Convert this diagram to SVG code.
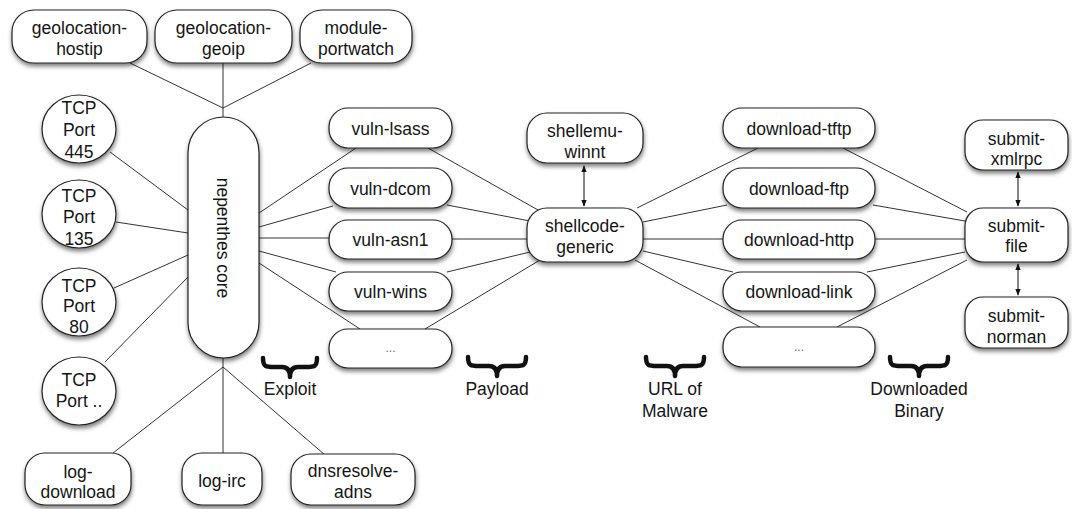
<svg xmlns="http://www.w3.org/2000/svg" width="1072" height="509" viewBox="0 0 1072 509">
<defs>
<filter id="sh" x="-20%" y="-30%" width="140%" height="170%">
<feDropShadow dx="0.5" dy="3" stdDeviation="2" flood-color="#000" flood-opacity="0.5"/>
</filter>
<marker id="ah" viewBox="0 0 10 10" refX="9" refY="5" markerWidth="6" markerHeight="6" orient="auto-start-reverse">
<path d="M0,1 L10,5 L0,9 Z" fill="#111"/>
</marker>
<style>
.n{fill:#fff;stroke:#222;stroke-width:1.2;filter:url(#sh)}
.t{font-family:"Liberation Sans",Arial,sans-serif;font-size:17.5px;fill:#151515;text-anchor:middle}
.d{font-family:"Liberation Sans",Arial,sans-serif;font-size:12px;fill:#666;text-anchor:middle}
.c{fill:none;stroke:#333;stroke-width:1}
.a{fill:none;stroke:#222;stroke-width:1.1;marker-start:url(#ah);marker-end:url(#ah)}
.b{fill:none;stroke:#111;stroke-width:4.5;stroke-linecap:round;stroke-linejoin:round}
</style>
</defs>
<rect width="1072" height="509" fill="#fff"/>

<g id="connectors">
<path class="c" d="M130,63 L223,108 M223,63 L223,108 M311,63 L223,108 M223,108 L223,117"/>
<path class="c" d="M110,152 L188,210 M116,222 L188,233 M114,288 L188,255 M105,362 L188,277"/>
<path class="c" d="M259,213 L356,148 M259,227 L333,206 M259,238 L329,238 M259,251 L336,272 M259,263 L360,329"/>
<path class="c" d="M428,148 L538,210 M447,205 L530,221 M452,239 L527,239 M447,272 L530,252 M425,329 L540,260"/>
<path class="c" d="M637,208 L758,148 M643,222 L727,205 M643,239 L723,239 M643,251 L733,272 M635,260 L760,327"/>
<path class="c" d="M843,148 L967,212 M873,205 L965,221 M875,239 L965,239 M867,272 L965,252 M837,327 L967,260"/>
<path class="c" d="M223,358 L223,367 M223,367 L113,453 M223,367 L223,453 M223,367 L325,455"/>
<path class="a" d="M584,166 L584,206"/>
<path class="a" d="M1018,172 L1018,206"/>
<path class="a" d="M1018,264 L1018,295"/>
</g>

<g id="geolocation-hostip"><rect class="n" x="12" y="10" width="135" height="53" rx="22"/><text class="t" x="79.5" y="34">geolocation-</text><text class="t" x="79.5" y="55">hostip</text></g>
<g id="geolocation-geoip"><rect class="n" x="155" y="10" width="137" height="53" rx="22"/><text class="t" x="223.5" y="34">geolocation-</text><text class="t" x="223.5" y="55">geoip</text></g>
<g id="module-portwatch"><rect class="n" x="300" y="10" width="112" height="53" rx="22"/><text class="t" x="356" y="34">module-</text><text class="t" x="356" y="55">portwatch</text></g>

<g id="nepenthes-core"><rect class="n" x="188" y="117" width="71" height="241" rx="35.5"/><text class="t" transform="translate(217,238) rotate(90)">nepenthes core</text></g>

<g id="tcp-445"><ellipse class="n" cx="79" cy="129" rx="37" ry="34"/><text class="t" x="79" y="114">TCP</text><text class="t" x="79" y="136">Port</text><text class="t" x="79" y="158">445</text></g>
<g id="tcp-135"><ellipse class="n" cx="79" cy="214" rx="37" ry="34"/><text class="t" x="79" y="202">TCP</text><text class="t" x="79" y="223">Port</text><text class="t" x="79" y="245">135</text></g>
<g id="tcp-80"><ellipse class="n" cx="79" cy="302" rx="37" ry="34"/><text class="t" x="79" y="292">TCP</text><text class="t" x="79" y="312">Port</text><text class="t" x="79" y="333">80</text></g>
<g id="tcp-other"><ellipse class="n" cx="79" cy="391" rx="37" ry="34"/><text class="t" x="79" y="386">TCP</text><text class="t" x="79" y="407">Port ..</text></g>

<g id="vuln-lsass"><rect class="n" x="329" y="108" width="123" height="40" rx="19"/><text class="t" x="390.5" y="135">vuln-lsass</text></g>
<g id="vuln-dcom"><rect class="n" x="329" y="168" width="123" height="40" rx="19"/><text class="t" x="390.5" y="195">vuln-dcom</text></g>
<g id="vuln-asn1"><rect class="n" x="329" y="220" width="123" height="39" rx="19"/><text class="t" x="390.5" y="246">vuln-asn1</text></g>
<g id="vuln-wins"><rect class="n" x="329" y="272" width="123" height="39" rx="19"/><text class="t" x="390.5" y="298">vuln-wins</text></g>
<g id="vuln-more"><rect class="n" x="329" y="329" width="123" height="39" rx="19"/><text class="d" x="390.5" y="352">...</text></g>

<g id="shellemu-winnt"><rect class="n" x="527" y="113" width="116" height="50" rx="20"/><text class="t" x="585" y="137">shellemu-</text><text class="t" x="585" y="158">winnt</text></g>
<g id="shellcode-generic"><rect class="n" x="527" y="208" width="116" height="54" rx="20"/><text class="t" x="585" y="232">shellcode-</text><text class="t" x="585" y="253">generic</text></g>

<g id="download-tftp"><rect class="n" x="723" y="108" width="152" height="40" rx="19"/><text class="t" x="799" y="135">download-tftp</text></g>
<g id="download-ftp"><rect class="n" x="723" y="168" width="152" height="40" rx="19"/><text class="t" x="799" y="195">download-ftp</text></g>
<g id="download-http"><rect class="n" x="723" y="220" width="152" height="39" rx="19"/><text class="t" x="799" y="246">download-http</text></g>
<g id="download-link"><rect class="n" x="723" y="272" width="152" height="39" rx="19"/><text class="t" x="799" y="298">download-link</text></g>
<g id="download-more"><rect class="n" x="723" y="327" width="152" height="40" rx="19"/><text class="d" x="799" y="351">...</text></g>

<g id="submit-xmlrpc"><rect class="n" x="965" y="120" width="103" height="50" rx="18"/><text class="t" x="1016.5" y="145">submit-</text><text class="t" x="1016.5" y="165">xmlrpc</text></g>
<g id="submit-file"><rect class="n" x="965" y="208" width="103" height="54" rx="18"/><text class="t" x="1016.5" y="232">submit-</text><text class="t" x="1016.5" y="252">file</text></g>
<g id="submit-norman"><rect class="n" x="965" y="297" width="103" height="51" rx="18"/><text class="t" x="1016.5" y="322">submit-</text><text class="t" x="1016.5" y="343">norman</text></g>

<g id="log-download"><rect class="n" x="25" y="453" width="106" height="52" rx="20"/><text class="t" x="78" y="478">log-</text><text class="t" x="78" y="498">download</text></g>
<g id="log-irc"><rect class="n" x="182" y="453" width="80" height="52" rx="20"/><text class="t" x="222" y="487">log-irc</text></g>
<g id="dnsresolve-adns"><rect class="n" x="291" y="454" width="124" height="51" rx="20"/><text class="t" x="353" y="477">dnsresolve-</text><text class="t" x="353" y="498">adns</text></g>

<g id="labels">
<path class="b" d="M263,358 C263,367 266,367 274,367 L282,367 C287,367 290,370 290,377 C290,370 293,367 298,367 L306,367 C314,367 317,367 317,358"/>
<text class="t" x="290" y="395">Exploit</text>
<path class="b" d="M468,357 C468,366 471,366 479,366 L489,366 C494,366 497,369 497,376 C497,369 500,366 505,366 L515,366 C523,366 526,366 526,357"/>
<text class="t" x="497" y="395">Payload</text>
<path class="b" d="M646,357 C646,366 649,366 657,366 L667,366 C672,366 675,369 675,376 C675,369 678,366 683,366 L693,366 C701,366 704,366 704,357"/>
<text class="t" x="675" y="395">URL of</text>
<text class="t" x="675" y="417">Malware</text>
<path class="b" d="M890,357 C890,366 893,366 901,366 L911,366 C916,366 919,369 919,376 C919,369 922,366 927,366 L937,366 C945,366 948,366 948,357"/>
<text class="t" x="919" y="395">Downloaded</text>
<text class="t" x="919" y="417">Binary</text>
</g>
</svg>
